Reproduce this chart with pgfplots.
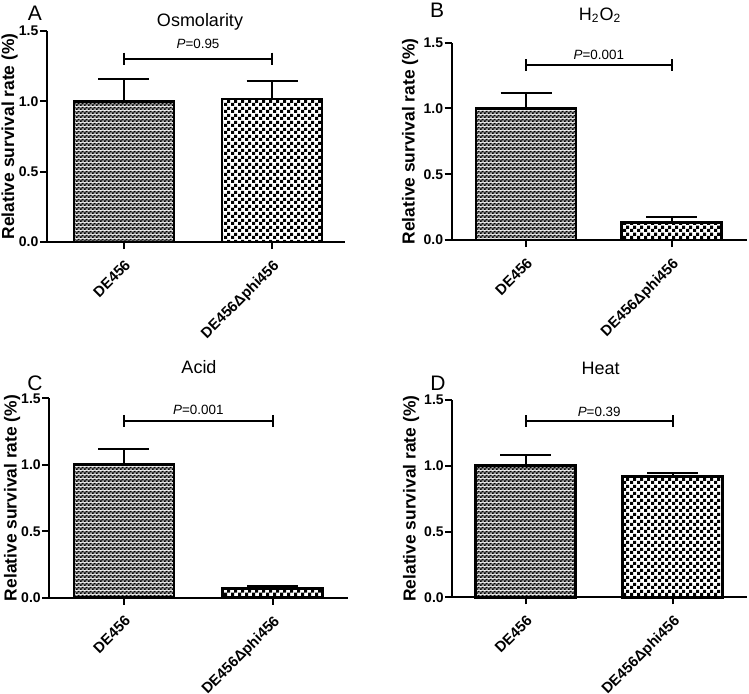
\documentclass[border=0pt]{standalone}
\usepackage{fontspec}
\setmainfont{Liberation Sans}
\usepackage{pgfplots}
\pgfplotsset{compat=1.18}
\usetikzlibrary{patterns}

% fine and coarse checkerboards used by GraphPad-style bars
\pgfdeclarepatterninherentlycolored{finecheck}{\pgfpointorigin}{\pgfpoint{2pt}{2pt}}{\pgfpoint{2pt}{2pt}}{%
  \pgfsetfillcolor{black!35}%
  \pgfpathrectangle{\pgfpointorigin}{\pgfpoint{2pt}{2pt}}%
  \pgfusepath{fill}%
  \pgfsetfillcolor{black}%
  \pgfpathrectangle{\pgfpointorigin}{\pgfpoint{1pt}{1pt}}%
  \pgfpathrectangle{\pgfpoint{1pt}{1pt}}{\pgfpoint{1pt}{1pt}}%
  \pgfusepath{fill}}
\pgfdeclarepatternformonly{coarsecheck}{\pgfpointorigin}{\pgfpoint{3.5pt}{3.5pt}}{\pgfpoint{3.5pt}{3.5pt}}{%
  \pgfpathrectangle{\pgfpointorigin}{\pgfpoint{1.75pt}{1.75pt}}%
  \pgfpathrectangle{\pgfpoint{1.75pt}{1.75pt}}{\pgfpoint{1.75pt}{1.75pt}}%
  \pgfusepath{fill}}

\pgfplotsset{
  panel/.style={
    scale only axis,
    anchor=south west,
    axis lines*=left,
    axis line style={line width=1pt},
    ymin=0, ymax=1.5,
    ytick={0,0.5,1,1.5},
    xtick={0,1},
    xticklabels={DE456, DE456Δphi456},
    x tick label style={rotate=45, anchor=north east, font=\bfseries\fontsize{7.4}{9}\selectfont},
    y tick label style={font=\bfseries\fontsize{7}{8}\selectfont, inner xsep=0.6pt},
    /pgf/number format/.cd, fixed, fixed zerofill, precision=1, assume math mode=true,
    /pgfplots/.cd,
    tick align=outside,
    major tick length=3.5pt,
    tick style={line width=1pt, black},
    ylabel={Relative survival rate (\%)},
    label style={font=\bfseries\fontsize{8.7}{10}\selectfont},
    clip=false,
  },
  bar1/.style={ybar, bar width=50pt, draw=black, line width=1.3pt, pattern=finecheck,
    error bars/.cd, y dir=plus, y explicit,
    error bar style={line width=1pt, black},
    error mark options={rotate=90, line width=1pt, mark size=12.75pt, black}},
  bar2/.style={ybar, bar width=50pt, draw=black, line width=1.3pt, pattern=coarsecheck,
    error bars/.cd, y dir=plus, y explicit,
    error bar style={line width=1pt, black},
    error mark options={rotate=90, line width=1pt, mark size=12.75pt, black}},
  bracket/.style={black, line width=1pt, no marks},
}

\newcommand{\ptext}[1]{\fontsize{6.7}{8}\selectfont\textit{P}=#1}

\begin{document}
\begin{tikzpicture}
\useasboundingbox (0,0) rectangle (374.5pt,346.5pt);

% A: Osmolarity
\begin{axis}[panel, at={(23.5pt,225.5pt)}, width=149pt, height=105.6pt,
  xmin=-0.52, xmax=1.493,
  ylabel style={at={(axis description cs:-0.125,0.5)}, anchor=center}]
\addplot[bar1] coordinates {(0,1.00) +- (0,0.155)};
\addplot[bar2] coordinates {(1,1.015) +- (0,0.13)};
\addplot[bracket] coordinates {(0,1.345) (0,1.255)};
\addplot[bracket] coordinates {(0,1.30) (1,1.30)};
\addplot[bracket] coordinates {(1,1.345) (1,1.255)};
\node at (axis cs:0.5,1.41) {\ptext{0.95}};
\end{axis}

% B: H2O2
\begin{axis}[panel, at={(225.85pt,226.5pt)}, width=147.5pt, height=98.7pt,
  xmin=-0.51, xmax=1.515,
  ylabel style={at={(axis description cs:-0.141,0.5)}, anchor=center}]
\addplot[bar1] coordinates {(0,1.00) +- (0,0.12)};
\addplot[bar2] coordinates {(1,0.132) +- (0,0.04)};
\addplot[bracket] coordinates {(0,1.375) (0,1.287)};
\addplot[bracket] coordinates {(0,1.33) (1,1.33)};
\addplot[bracket] coordinates {(1,1.375) (1,1.287)};
\node at (axis cs:0.5,1.41) {\ptext{0.001}};
\end{axis}

% C: Acid
\begin{axis}[panel, at={(24.65pt,47.65pt)}, width=149.35pt, height=99.7pt,
  xmin=-0.502, xmax=1.506,
  ylabel style={at={(axis description cs:-0.1245,0.5)}, anchor=center}]
\addplot[bar1] coordinates {(0,1.00) +- (0,0.12)};
\addplot[bar2] coordinates {(1,0.07) +- (0,0.018)};
\addplot[bracket] coordinates {(0,1.375) (0,1.287)};
\addplot[bracket] coordinates {(0,1.33) (1,1.33)};
\addplot[bracket] coordinates {(1,1.375) (1,1.287)};
\node at (axis cs:0.5,1.41) {\ptext{0.001}};
\end{axis}

% D: Heat
\begin{axis}[panel, at={(226.15pt,47.85pt)}, width=147.2pt, height=98.65pt,
  xmin=-0.499, xmax=1.503,
  ylabel style={at={(axis description cs:-0.14,0.5)}, anchor=center}]
\addplot[bar1] coordinates {(0,1.00) +- (0,0.082)};
\addplot[bar2] coordinates {(1,0.917) +- (0,0.031)};
\addplot[bracket] coordinates {(0,1.385) (0,1.295)};
\addplot[bracket] coordinates {(0,1.34) (1,1.34)};
\addplot[bracket] coordinates {(1,1.385) (1,1.295)};
\node at (axis cs:0.5,1.41) {\ptext{0.39}};
\end{axis}

% panel letters and titles
\node[font=\fontsize{10.5}{12}\selectfont] at (17.5pt,340pt) {A};
\node[font=\fontsize{10.5}{12}\selectfont] at (218.5pt,341.5pt) {B};
\node[font=\fontsize{10.5}{12}\selectfont] at (17.5pt,155pt) {C};
\node[font=\fontsize{10.5}{12}\selectfont] at (219pt,155pt) {D};
\node[font=\fontsize{9}{11}\selectfont] at (100pt,335.5pt) {Osmolarity};
\node[font=\fontsize{9}{11}\selectfont] at (300pt,339pt) {H\textsubscript{2}O\textsubscript{2}};
\node[font=\fontsize{9}{11}\selectfont] at (99.5pt,163pt) {Acid};
\node[font=\fontsize{9}{11}\selectfont] at (300.35pt,162.5pt) {Heat};
\end{tikzpicture}
\end{document}
